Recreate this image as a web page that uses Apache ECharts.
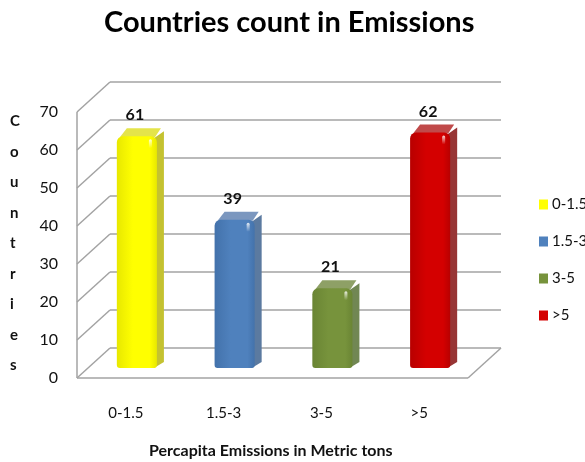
<!DOCTYPE html>
<html>
<head>
<meta charset="utf-8">
<script src="https://cdn.jsdelivr.net/npm/echarts@6/dist/echarts.min.js"></script>
<style>
  html, body { margin: 0; padding: 0; background: #fff; }
  #chart { width: 585px; height: 462px; }
</style>
</head>
<body>
<div id="chart"></div>
<script>
// data
var categories = ['0-1.5', '1.5-3', '3-5', '>5'];
var counts = [61, 39, 21, 62];
var yTicks = [0, 10, 20, 30, 40, 50, 60, 70];

// colours for each bar: front, side, top
var barFront = ['#ffff00', '#4f81bd', '#77933c', '#d40000'];
var barEdge = ['#e8e800', '#4372ab', '#6a8534', '#b80000'];
var barSide = ['#c4c231', '#5b7aa0', '#718753', '#973535'];
var barTop = ['#e4e44a', '#7b97bf', '#8ea066', '#c04a4a'];

var depthX = 33, depthY = -30;  // back wall offset
var barDx = 7, barDy = -8;      // bar thickness

var myChart = echarts.init(document.getElementById('chart'));

// walls + floor of the 3D box
function renderWall(params, api) {
    var cs = params.coordSys;
    var v = api.value(1);
    var y = api.coord([0, v])[1];
    var x0 = cs.x, x1 = cs.x + cs.width;
    var ls = { stroke: '#a3a3a3', lineWidth: 1.5 };
    var kids = [
        { type: 'line', shape: { x1: x0, y1: y, x2: x0 + depthX, y2: y + depthY }, style: ls },
        { type: 'line', shape: { x1: x0 + depthX, y1: y + depthY, x2: x1 + depthX, y2: y + depthY }, style: ls }
    ];
    if (v === yTicks[0]) {
        kids.push({ type: 'line', shape: { x1: x0, y1: y, x2: x1, y2: y }, style: ls });
        kids.push({ type: 'line', shape: { x1: x1, y1: y, x2: x1 + depthX, y2: y + depthY }, style: ls });
    }
    if (v === yTicks[yTicks.length - 1]) {
        var yb = api.coord([0, yTicks[0]])[1];
        kids.push({ type: 'line', shape: { x1: x0, y1: y, x2: x0, y2: yb }, style: ls });
    }
    return { type: 'group', children: kids };
}

function makeBarRender(i) {
    return function (params, api) {
        var base = api.coord([api.value(0), 0]);
        var top = api.coord([api.value(0), api.value(1)]);
        var w = api.size([1, 0])[0] * 0.41;
        var x = top[0] - w / 2;
        var yt = top[1], yb = base[1];
        return {
            type: 'group',
            children: [
                {
                    type: 'polygon',
                    shape: { points: [[x + w - 3, yt + 2], [x + w + barDx, yt + barDy + 3], [x + w + barDx, yb + barDy + 2], [x + w - 3, yb]] },
                    style: { fill: barSide[i] }
                },
                {
                    type: 'polygon',
                    shape: { points: [[x + 3, yt + 1], [x + barDx + 3, yt + barDy], [x + w + barDx - 3, yt + barDy], [x + w - 2, yt + 1]] },
                    style: { fill: barTop[i] }
                },
                {
                    type: 'rect',
                    shape: { x: x, y: yt, width: w, height: yb - yt, r: [6, 6, 3, 3] },
                    style: {
                        fill: new echarts.graphic.LinearGradient(0, 0, 1, 0, [
                            { offset: 0, color: barEdge[i] },
                            { offset: 0.4, color: barFront[i] },
                            { offset: 0.82, color: barFront[i] },
                            { offset: 1, color: barEdge[i] }
                        ])
                    }
                },
                {
                    type: 'rect',
                    shape: { x: x + w - 8, y: yt + 3, width: 3, height: 9, r: 1.5 },
                    style: {
                        fill: new echarts.graphic.LinearGradient(0, 0, 0, 1, [
                            { offset: 0, color: 'rgba(255,255,255,0.85)' },
                            { offset: 1, color: 'rgba(255,255,255,0)' }
                        ])
                    }
                },
                {
                    type: 'text',
                    style: {
                        x: x + w / 2 - 2,
                        y: yt + barDy - 5,
                        text: String(api.value(1)),
                        align: 'center',
                        verticalAlign: 'bottom',
                        font: 'bold 16px Lato',
                        fill: '#111'
                    }
                }
            ]
        };
    };
}

var series = [{
    type: 'custom',
    name: 'walls',
    xAxisIndex: 0,
    yAxisIndex: 0,
    silent: true,
    z: 1,
    renderItem: renderWall,
    data: yTicks.map(function (v) { return [0, v]; })
}];
for (var i = 0; i < categories.length; i++) {
    series.push({
        type: 'custom',
        name: categories[i],
        xAxisIndex: 1,
        yAxisIndex: 1,
        z: 3,
        itemStyle: { color: barFront[i] },
        renderItem: makeBarRender(i),
        data: [[i, counts[i]]]
    });
}

var option = {
    animation: false,
    title: {
        text: 'Countries count in Emissions',
        left: 99,
        top: 3,
        textStyle: { fontFamily: 'Lato', fontWeight: 'bold', fontSize: 29, color: '#000' }
    },
    legend: {
        data: categories,
        orient: 'vertical',
        left: 534,
        top: 192,
        icon: 'rect',
        itemWidth: 9,
        itemHeight: 10,
        itemGap: 22,
        textStyle: { fontFamily: 'Lato', fontSize: 15, color: '#111', padding: [0, 0, 0, -1] }
    },
    grid: [
        { left: 77, right: 117, top: 112, bottom: 84 },
        { left: 88, right: 106, top: 102, bottom: 94 }
    ],
    xAxis: [
        {
            gridIndex: 0,
            type: 'category',
            data: categories,
            axisLine: { show: false },
            axisTick: { show: false },
            axisLabel: { margin: 28, fontFamily: 'Lato', fontSize: 15, color: '#111' }
        },
        {
            gridIndex: 1,
            type: 'category',
            data: categories,
            show: false
        }
    ],
    yAxis: [
        {
            gridIndex: 0,
            type: 'value',
            min: 0,
            max: 70,
            interval: 10,
            axisLine: { show: false },
            axisTick: { show: false },
            splitLine: { show: false },
            axisLabel: { margin: 19, fontFamily: 'Lato', fontSize: 16, color: '#111', padding: [6, 0, 0, 0] }
        },
        {
            gridIndex: 1,
            type: 'value',
            min: 0,
            max: 70,
            interval: 10,
            show: false
        }
    ],
    graphic: [
        {
            type: 'text',
            left: 10,
            top: 106,
            style: {
                text: 'C\no\nu\nn\nt\nr\ni\ne\ns',
                font: 'bold 15px Lato',
                lineHeight: 30.5,
                align: 'center',
                width: 14,
                fill: '#111'
            }
        },
        {
            type: 'text',
            left: 149,
            top: 443,
            style: {
                text: 'Percapita Emissions in Metric tons',
                font: 'bold 16px Lato',
                fill: '#111'
            }
        }
    ],
    series: series
};
myChart.setOption(option);
</script>
</body>
</html>
